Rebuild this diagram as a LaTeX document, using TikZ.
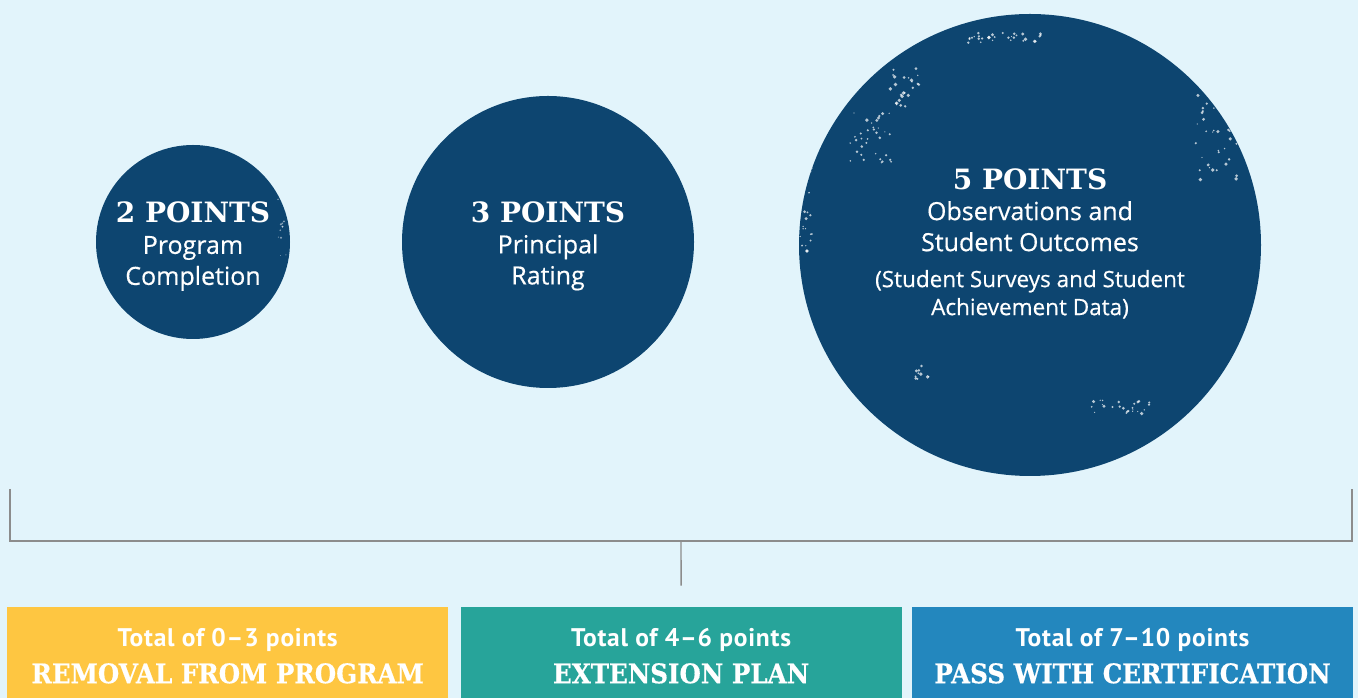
\documentclass[tikz,border=0pt]{standalone}
\usepackage{fontspec}
\setmainfont[FakeBold=0.5]{Open Sans}
\newfontfamily\slabfont{DejaVu Serif}
\newfontfamily\capsfont[FakeBold=0.5,FakeStretch=0.91]{DejaVu Serif}
\newfontfamily\narrowfont[LetterSpace=3]{PT Sans}
\usetikzlibrary{positioning}

\definecolor{paleblue}{HTML}{E2F4FB}
\definecolor{navy}{HTML}{0D4570}
\definecolor{sun}{HTML}{FEC641}
\definecolor{teal}{HTML}{27A49A}
\definecolor{ocean}{HTML}{2387BE}
\definecolor{rule}{HTML}{8C8C8C}

\newcommand\points[1]{{\slabfont\bfseries\fontsize{28}{31}\selectfont #1 POINTS}}
\newcommand\verdict[1]{{\capsfont\fontsize{27}{37}\selectfont #1}}

\begin{document}
\begin{tikzpicture}[x=1pt,y=1pt,node distance=12pt,
                    every node/.style={text=white, inner sep=0pt}]

  \tikzstyle{score} = [circle, fill=navy]
  \tikzstyle{tally} = [align=center, font=\fontsize{25}{31}\selectfont]
  \tikzstyle{result} = [rectangle, minimum width=441pt, minimum height=91pt]
  \tikzstyle{outcome} = [align=center, font=\narrowfont\bfseries\fontsize{25.5}{37}\selectfont]
  \tikzstyle{bracket} = [draw=rule, line width=1.4pt]
  \tikzstyle{speck} = [fill=white, opacity=0.7]

  \fill[paleblue] (0,0) rectangle (1358,698);
  \useasboundingbox (0,0) rectangle (1358,698);

  % score circles
  \node[score, minimum size=194pt] (two)   at (193,456)  {};
  \node[score, minimum size=292pt] (three) at (548,456)  {};
  \node[score, minimum size=462pt] (five)  at (1030,453) {};

  % worn print on the rims
  \pgfmathsetseed{42}
  \begin{scope}
    \clip (five.center) circle (231);
    \foreach \cx/\cy/\dx/\dy/\n in {1005/660/40/5/30, 905/610/15/20/25, 870/560/22/25/35,
                                    806/480/6/55/30, 1215/560/22/45/35, 922/325/8/8/10,
                                    1120/291/32/7/25}
      \foreach \k in {1,...,\n}
        \fill[speck] (\cx+\dx*rand,\cy+\dy*rand) circle (0.6+1.3*rnd);
  \end{scope}
  \begin{scope}
    \clip (two.center) circle (97);
    \foreach \k in {1,...,12}
      \fill[speck, opacity=0.5] (283+5*rand,470+30*rand) circle (0.4+0.8*rnd);
  \end{scope}

  \node[tally] (twotext)   at ([yshift=-4.5pt]two.center)  {\points{2}\\Program\\Completion};
  \node[tally] (threetext) at ([yshift=-4pt]three.center)  {\points{3}\\Principal\\Rating};
  \node[tally] (fivetext)  at ([yshift=1.5pt]five.center)
        {\points{5}\\Observations and\\Student Outcomes\\[5pt]
         {\fontsize{22.5}{28}\selectfont (Student Surveys and Student}\\[-3pt]
         {\fontsize{22.5}{28}\selectfont Achievement Data)}};

  % outcome bands
  \node[result, fill=sun, anchor=south west] (low) at (7,0) {};
  \node[result, fill=teal]  (mid)  [right=of low]     {};
  \node[result, fill=ocean] (high) [right=10pt of mid] {};

  \node[outcome] (lowtext)  at ([yshift=-3.5pt]low.center)
        {Total of 0\textendash 3 points\\\verdict{REMOVAL FROM PROGRAM}};
  \node[outcome] (midtext)  at ([yshift=-3.5pt]mid.center)
        {Total of 4\textendash 6 points\\\verdict{EXTENSION PLAN}};
  \node[outcome] (hightext) at ([yshift=-3.5pt]high.center)
        {Total of 7\textendash 10 points\\\verdict{PASS WITH CERTIFICATION}};

  % bracket gathering the three scores
  \coordinate (lefttip)  at (10,209);
  \coordinate (righttip) at (1352,209);
  \coordinate (join)     at (681,157);
  \draw[bracket] (lefttip) |- (join) -| (righttip);
  \draw[bracket] (join) -- ([yshift=21pt]mid.north);

\end{tikzpicture}
\end{document}
